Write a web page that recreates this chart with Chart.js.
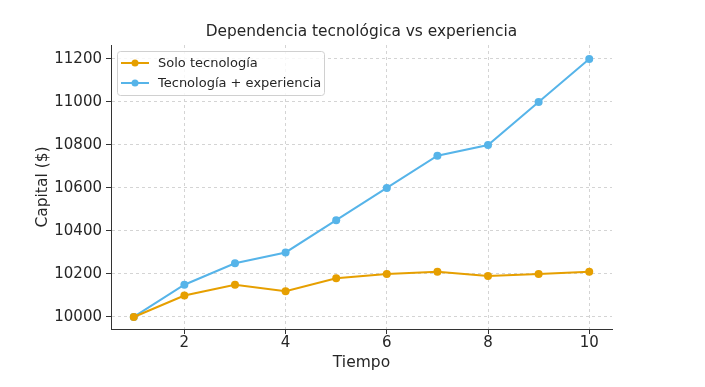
<!DOCTYPE html>
<html>
<head>
<meta charset="utf-8">
<script src="https://cdn.jsdelivr.net/npm/chart.js@4"></script>
<style>
  html, body { margin: 0; padding: 0; background: #fff; }
  #wrap { width: 705px; height: 387px; }
</style>
</head>
<body>
<div id="wrap"><canvas id="chart" width="705" height="387"></canvas></div>
<script>
const tiempo = [1, 2, 3, 4, 5, 6, 7, 8, 9, 10];
const soloTecnologia = [10000, 10100, 10150, 10120, 10180, 10200, 10210, 10190, 10200, 10210];
const tecnologiaExperiencia = [10000, 10150, 10250, 10300, 10450, 10600, 10750, 10800, 11000, 11200];
const xTicks = [2, 4, 6, 8, 10];
const yTicks = [10000, 10200, 10400, 10600, 10800, 11000, 11200];
const chartTitle = 'Dependencia tecnológica vs experiencia';

const FONT = 'DejaVu Sans';

// title centred over the plot area, legend inside the plot (top-left)
const decorations = {
    id: 'decorations',
    afterDraw(chart) {
        const ctx = chart.ctx;
        const area = chart.chartArea;
        ctx.save();
        ctx.fillStyle = '#262626';
        ctx.font = '15.4px ' + FONT;
        ctx.textAlign = 'center';
        ctx.textBaseline = 'middle';
        ctx.fillText(chartTitle, (area.left + area.right) / 2, 32);

        const x0 = area.left + 6, y0 = area.top + 6;
        const w = 207, h = 44;
        ctx.fillStyle = 'rgba(255,255,255,0.8)';
        ctx.strokeStyle = '#d0d0d0';
        ctx.lineWidth = 1;
        ctx.beginPath();
        ctx.roundRect(x0 + 0.5, y0 + 0.5, w, h, 3);
        ctx.fill();
        ctx.stroke();
        ctx.font = '13px ' + FONT;
        ctx.textAlign = 'left';
        chart.data.datasets.forEach((ds, i) => {
            const cy = y0 + 12 + i * 20;
            ctx.strokeStyle = ds.borderColor;
            ctx.lineWidth = 2;
            ctx.beginPath();
            ctx.moveTo(x0 + 4, cy);
            ctx.lineTo(x0 + 32, cy);
            ctx.stroke();
            ctx.fillStyle = ds.borderColor;
            ctx.beginPath();
            ctx.arc(x0 + 18, cy, 3.5, 0, Math.PI * 2);
            ctx.fill();
            ctx.fillStyle = '#262626';
            ctx.fillText(ds.label, x0 + 41, cy + 1);
        });
        ctx.restore();
    }
};

new Chart(document.getElementById('chart').getContext('2d'), {
    type: 'line',
    data: {
        datasets: [
            {
                label: 'Solo tecnología',
                data: tiempo.map((t, i) => ({ x: t, y: soloTecnologia[i] })),
                borderColor: '#E69F00',
                backgroundColor: '#E69F00',
                borderWidth: 2,
                pointRadius: 4,
                pointBorderWidth: 0,
                tension: 0
            },
            {
                label: 'Tecnología + experiencia',
                data: tiempo.map((t, i) => ({ x: t, y: tecnologiaExperiencia[i] })),
                borderColor: '#56B4E9',
                backgroundColor: '#56B4E9',
                borderWidth: 2,
                pointRadius: 4,
                pointBorderWidth: 0,
                tension: 0
            }
        ]
    },
    options: {
        responsive: false,
        animation: false,
        layout: { padding: { left: 34, right: 93, top: 45, bottom: 15 } },
        plugins: {
            legend: { display: false },
            tooltip: { enabled: false },
            title: { display: false }
        },
        scales: {
            x: {
                type: 'linear',
                min: 0.55,
                max: 10.45,
                afterBuildTicks: axis => { axis.ticks = xTicks.map(v => ({ value: v })); },
                afterFit: axis => { axis.height = 43; },
                ticks: {
                    color: '#262626',
                    font: { family: FONT, size: 15 },
                    padding: 0,
                    maxRotation: 0,
                    callback: v => String(v)
                },
                grid: {
                    color: '#d4d4d4',
                    tickColor: '#333',
                    tickLength: 5,
                    tickBorderDash: []
                },
                border: { display: true, color: '#333', width: 1, dash: [3, 3] },
                title: {
                    display: true,
                    text: 'Tiempo',
                    color: '#262626',
                    font: { family: FONT, size: 15.5 },
                    padding: 0
                }
            },
            y: {
                min: 9944,
                max: 11265,
                afterBuildTicks: axis => { axis.ticks = yTicks.map(v => ({ value: v })); },
                afterFit: axis => { axis.width = 77; },
                ticks: {
                    color: '#262626',
                    font: { family: FONT, size: 15 },
                    padding: 4,
                    callback: v => String(v)
                },
                grid: {
                    color: '#d4d4d4',
                    tickColor: '#333',
                    tickLength: 5,
                    tickBorderDash: []
                },
                border: { display: true, color: '#333', width: 1, dash: [3, 3] },
                title: {
                    display: true,
                    text: 'Capital ($)',
                    color: '#262626',
                    font: { family: FONT, size: 15.5 },
                    padding: 0
                }
            }
        }
    },
    plugins: [decorations]
});
</script>
</body>
</html>
